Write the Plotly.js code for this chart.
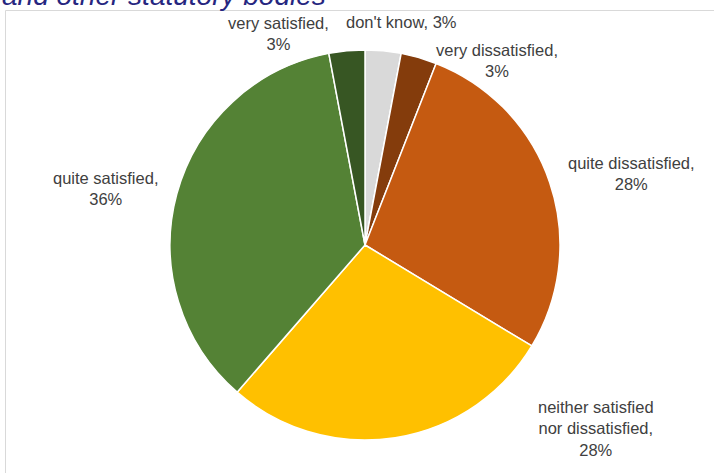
<!DOCTYPE html>
<html>
<head>
<meta charset="utf-8">
<script src="https://cdn.plot.ly/plotly-3.0.1.min.js"></script>
<style>html,body{margin:0;padding:0;background:#fff;}#chart{width:714px;height:473px;}</style>
</head>
<body>
<div id="chart"></div>
<script>
// Data (clockwise from 12 o'clock)
const categories = ["don't know", "very dissatisfied", "quite dissatisfied", "neither satisfied nor dissatisfied", "quite satisfied", "very satisfied"];
const values = [3, 3, 28, 28, 36, 3];
const labelTexts = ["don't know, 3%", "very dissatisfied,<br>3%", "quite dissatisfied,<br>28%", "neither satisfied<br>nor dissatisfied,<br>28%", "quite satisfied,<br>36%", "very satisfied,<br>3%"];
const colors = ["#D9D9D9", "#843C0C", "#C55A11", "#FFC000", "#548235", "#375623"];

// Layout-only: label centre positions in pixels
const labelPos = [[401, 22], [497, 60], [631, 174], [596, 428], [105, 188], [278, 33]];

const W = 714, H = 473;
const annotations = labelTexts.map((t, i) => ({
  text: t, xref: 'paper', yref: 'paper',
  x: labelPos[i][0] / W, y: 1 - labelPos[i][1] / H,
  xanchor: 'center', yanchor: 'middle', align: 'center', showarrow: false,
  font: {family: 'Liberation Sans, Arial, sans-serif', size: 16.5, color: '#404040'}
}));
annotations.push({
  text: 'and other statutory bodies', xref: 'paper', yref: 'paper',
  x: 0, y: 1, xanchor: 'left', yanchor: 'bottom', yshift: -13, showarrow: false,
  font: {family: 'Liberation Sans, Arial, sans-serif', size: 28, color: '#262680', style: 'italic'}
});

const data = [{
  type: 'pie', labels: categories, values: values, sort: false,
  direction: 'clockwise', rotation: 0,
  marker: {colors: colors, line: {color: '#FFFFFF', width: 1.5}},
  textinfo: 'none', hoverinfo: 'label+percent',
  domain: {x: [170 / W, 560 / W], y: [1 - 440 / H, 1 - 50 / H]}
}];

const layout = {
  width: W, height: H, margin: {l: 0, r: 0, t: 0, b: 0},
  paper_bgcolor: '#FFFFFF', showlegend: false,
  annotations: annotations,
  shapes: [{type: 'rect', xref: 'paper', yref: 'paper',
    x0: 5.5 / W, x1: 1.05, y0: -0.05, y1: 1 - 10.5 / H,
    line: {color: '#D9D9D9', width: 1}, fillcolor: 'rgba(0,0,0,0)'}]
};

Plotly.newPlot('chart', data, layout, {displayModeBar: false, staticPlot: true});
</script>
</body>
</html>
